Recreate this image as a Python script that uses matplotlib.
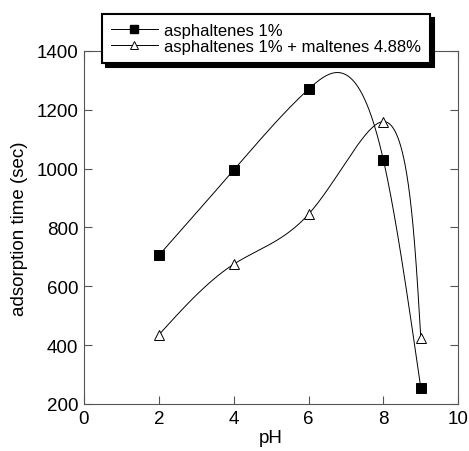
import numpy as np
import matplotlib
matplotlib.use("Agg")
import matplotlib.pyplot as plt

plt.rcParams['font.family'] = ['Liberation Sans', 'DejaVu Sans']

ph = [2, 4, 6, 8, 9]
asph = [705, 995, 1270, 1030, 255]
asph_malt = [435, 675, 845, 1160, 425]
labels = ["asphaltenes 1%", "asphaltenes 1% + maltenes 4.88%"]


def natural_coeffs(t, v):
    m = len(t); h = np.diff(t)
    A = np.zeros((m, m)); b = np.zeros(m)
    A[0, 0] = A[-1, -1] = 1
    for i in range(1, m - 1):
        A[i, i - 1] = h[i - 1]; A[i, i] = 2 * (h[i - 1] + h[i]); A[i, i + 1] = h[i]
        b[i] = 6 * ((v[i + 1] - v[i]) / h[i] - (v[i] - v[i - 1]) / h[i - 1])
    return np.linalg.solve(A, b)


def eval_spline(t, v, M, ts):
    idx = np.clip(np.searchsorted(t, ts) - 1, 0, len(t) - 2)
    t0 = t[idx]; t1 = t[idx + 1]; hh = t1 - t0
    return (M[idx] * (t1 - ts) ** 3 / (6 * hh) + M[idx + 1] * (ts - t0) ** 3 / (6 * hh)
            + (v[idx] / hh - M[idx] * hh / 6) * (t1 - ts)
            + (v[idx + 1] / hh - M[idx + 1] * hh / 6) * (ts - t0))


def parametric_spline(ax, x, y, alpha=0.5, n=400):
    pts = ax.transData.transform(np.column_stack([x, y]))
    d = np.sqrt((np.diff(pts, axis=0) ** 2).sum(axis=1)) ** alpha
    t = np.concatenate([[0], np.cumsum(d)])
    ts = np.linspace(0, t[-1], n)
    Mx = natural_coeffs(t, pts[:, 0]); My = natural_coeffs(t, pts[:, 1])
    px = eval_spline(t, pts[:, 0], Mx, ts); py = eval_spline(t, pts[:, 1], My, ts)
    return ax.transData.inverted().transform(np.column_stack([px, py])).T


def xy_spline(x, y, n=400):
    x = np.asarray(x, float); y = np.asarray(y, float)
    M = natural_coeffs(x, y)
    xs = np.linspace(x[0], x[-1], n)
    return xs, eval_spline(x, y, M, xs)


fig = plt.figure(figsize=(4.69, 4.52), dpi=100)
ax = fig.add_axes([0.179, 0.104, 0.798, 0.781])
ax.set_xlim(0, 10)
ax.set_ylim(200, 1400)

sx, sy = xy_spline(ph, asph)
ax.plot(sx, sy, color='black', lw=0.7, clip_on=False)
ax.plot(ph, asph, ls='none', marker='s', ms=7, mfc='black', mec='black', mew=0.7)

sx, sy = parametric_spline(ax, ph, asph_malt, 0.5)
ax.plot(sx, sy, color='black', lw=0.7)
ax.plot(ph, asph_malt, ls='none', marker='^', ms=7.5, mfc='white', mec='black', mew=0.7)

h1, = ax.plot([], [], color='black', lw=0.7, marker='s', ms=6, mfc='black', mec='black')
h2, = ax.plot([], [], color='black', lw=0.7, marker='^', ms=6, mfc='white', mec='black', mew=0.7)

ax.set_xticks([0, 2, 4, 6, 8, 10])
ax.set_yticks([200, 400, 600, 800, 1000, 1200, 1400])
ax.tick_params(direction='in', top=True, right=True, labelsize=13.5, length=6, width=0.8, color='#555555', pad=4)
for s in ax.spines.values():
    s.set_linewidth(0.8)
    s.set_color('#555555')
ax.set_xlabel('pH', fontsize=13.5, labelpad=2)
ax.set_ylabel('adsorption time (sec)', fontsize=13.5, labelpad=6)

leg = ax.legend([h1, h2], labels, loc='upper left', bbox_to_anchor=(0.047, 1.105), fontsize=12,
                fancybox=False, shadow={'color': 'black', 'alpha': 1, 'ox': 3, 'oy': -3}, framealpha=1,
                handlelength=2.85, handletextpad=0.35, borderpad=0.55, labelspacing=0.05,
                borderaxespad=0)
leg.get_frame().set_edgecolor('black')
leg.get_frame().set_linewidth(1.5)
leg.set_zorder(5)

fig.savefig('out.png', dpi=100)
